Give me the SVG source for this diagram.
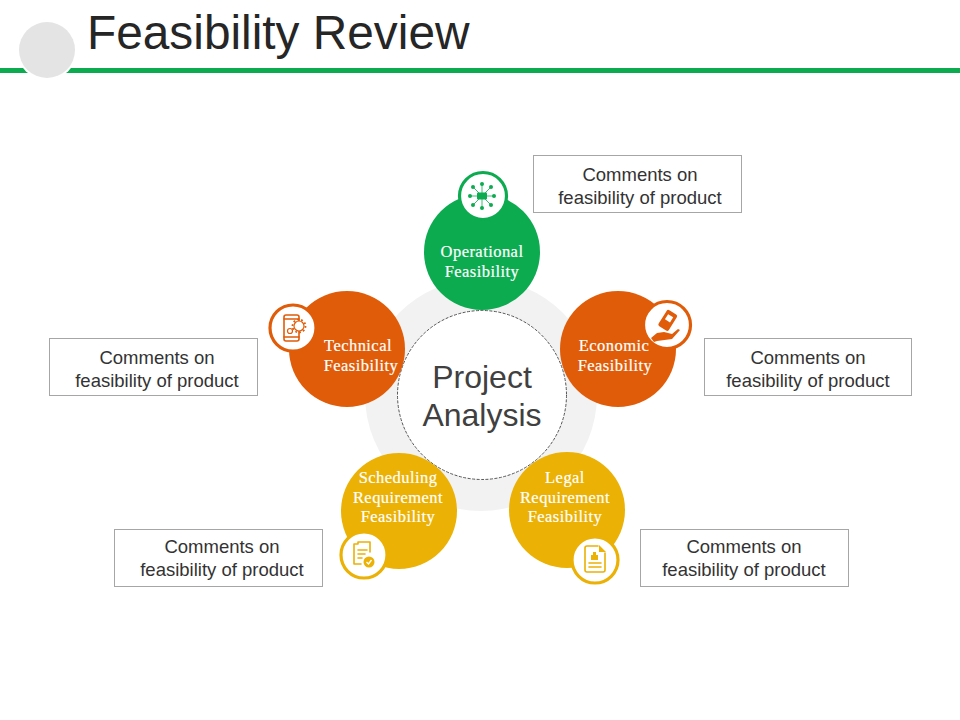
<svg xmlns="http://www.w3.org/2000/svg" width="960" height="720" viewBox="0 0 960 720">
<style>
.box{fill:#fff;stroke:#a6a6a6;stroke-width:1}
.c{font:18.500px "Liberation Sans",Arial,sans-serif;fill:#333;text-anchor:middle}
.n{font:16.500px "Liberation Serif","Times New Roman",serif;letter-spacing:.45px;fill:#fff;text-anchor:middle;stroke:#fff;stroke-width:.2}
.badge{fill:#fff;stroke-width:3.2}
.ic{fill:none;stroke-width:1.6;stroke-linecap:round;stroke-linejoin:round}
.green .badge,.green .ic{stroke:#0cab50}.green .m{fill:#0cab50}
.orange .badge,.orange .ic{stroke:#e05c08}.orange .m{fill:#e05c08}
.yellow .badge,.yellow .ic{stroke:#ebb104}.yellow .m{fill:#ebb104}
</style>
<rect width="960" height="720" fill="#fff"/>
<g id="header">
<rect x="0" y="68" width="960" height="5" fill="#0cab50"/>
<circle cx="47" cy="50" r="30" fill="#fff"/>
<circle cx="47" cy="50" r="28" fill="#e4e4e4"/>
<text x="87" y="49" font-family="Liberation Sans, Arial, sans-serif" font-size="47.800" fill="#262626">Feasibility Review</text>
</g>
<g id="hub">
<circle cx="481" cy="395" r="116" fill="#f2f2f2"/>
<circle cx="482" cy="395" r="84.500" fill="#fff" stroke="#555" stroke-width="1" stroke-dasharray="3 1.500"/>
<text x="482" y="388" font-family="Liberation Sans, Arial, sans-serif" font-size="32" fill="#404040" text-anchor="middle">Project</text>
<text x="482" y="426" font-family="Liberation Sans, Arial, sans-serif" font-size="32" fill="#404040" text-anchor="middle">Analysis</text>
</g>
<g id="connectors"></g>
<g id="operational" class="green">
<circle cx="482" cy="252" r="58" fill="#0cab50"/>
<text class="n" x="482" y="257">Operational</text>
<text class="n" x="482" y="277">Feasibility</text>
<circle class="badge" cx="483" cy="196" r="23.500"/>
<path d="M482 196V184M482 196V208M482 196H470M482 196H494M482 196L473 187M482 196L491 187M482 196L473 205M482 196L491 205" stroke="#0cab50" stroke-width=".8" fill="none"/>
<g class="m"><rect x="477" y="192.500" width="10" height="7" rx="1"/><circle cx="482" cy="184" r="2"/><circle cx="482" cy="208" r="2"/><circle cx="470" cy="196" r="2"/><circle cx="494" cy="196" r="2"/><circle cx="473" cy="187" r="2"/><circle cx="491" cy="187" r="2"/><circle cx="473" cy="205" r="2"/><circle cx="491" cy="205" r="2"/></g>
</g>
<g id="technical" class="orange">
<circle cx="347" cy="349" r="58" fill="#e05c08"/>
<text class="n" x="358" y="351">Technical</text>
<text class="n" x="361" y="371">Feasibility</text>
<circle class="badge" cx="293" cy="328" r="23"/>
<g class="ic"><rect x="284" y="315" width="15" height="26" rx="2"/><path d="M284 319H299M284 337H299"/><circle cx="299" cy="326" r="5" fill="#fff" stroke-width="1.200"/><circle cx="299" cy="326" r="6.500" stroke-dasharray="1.800 2.200" stroke-linecap="butt" stroke-width="1.800"/><circle cx="290" cy="331" r="2.500" fill="#fff" stroke-width="1.200"/></g>
</g>
<g id="economic" class="orange">
<circle cx="618" cy="349" r="58" fill="#e05c08"/>
<text class="n" x="614" y="351">Economic</text>
<text class="n" x="615" y="371">Feasibility</text>
<circle class="badge" cx="667" cy="325" r="23.500"/>
<g class="m"><path d="M651 338L657 333L664 332L672 334L678 329L680 330L672 339L657 341L654 342Z"/><rect x="662" y="311" width="12" height="19" rx="2" transform="rotate(32 668 320)"/></g>
<rect x="665" y="315" width="6" height="6" fill="#fff" transform="rotate(32 668 320)"/>
</g>
<g id="scheduling" class="yellow">
<circle cx="399" cy="511" r="58" fill="#ebb104"/>
<text class="n" x="398" y="483">Scheduling</text>
<text class="n" x="398" y="503">Requirement</text>
<text class="n" x="398" y="522">Feasibility</text>
<circle class="badge" cx="364" cy="555" r="23"/>
<g class="ic"><path d="M358 542H370V552M358 544H354V564H361M358 542V544"/><path d="M358 550H367M358 554H365M358 558H362"/></g>
<circle class="m" cx="369" cy="562" r="5.500"/><path d="M366.500 562L368.500 564L371.500 560" fill="none" stroke="#fff" stroke-width="1.400"/>
</g>
<g id="legal" class="yellow">
<circle cx="567" cy="510" r="58" fill="#ebb104"/>
<text class="n" x="565" y="483">Legal</text>
<text class="n" x="565" y="503">Requirement</text>
<text class="n" x="565" y="522">Feasibility</text>
<circle class="badge" cx="595" cy="560" r="23"/>
<g class="ic"><path d="M598 546H587Q585 546 585 548V570Q585 572 587 572H603Q605 572 605 570V553"/><path d="M589 563H601M589 567H601"/></g>
<path class="m" d="M599 545L606 552H599Z"/><path class="m" d="M591 560V555H593V552H596V555H598V560Z"/>
</g>
<g id="comment-top"><rect class="box" x="533.500" y="155.500" width="208" height="57"/><text class="c" x="640" y="181">Comments on</text><text class="c" x="640" y="204">feasibility of product</text></g>
<g id="comment-left"><rect class="box" x="49.500" y="338.500" width="208" height="57"/><text class="c" x="157" y="364">Comments on</text><text class="c" x="157" y="387">feasibility of product</text></g>
<g id="comment-right"><rect class="box" x="704.500" y="338.500" width="207" height="57"/><text class="c" x="808" y="364">Comments on</text><text class="c" x="808" y="387">feasibility of product</text></g>
<g id="comment-bottom-left"><rect class="box" x="114.500" y="529.500" width="208" height="57"/><text class="c" x="222" y="553">Comments on</text><text class="c" x="222" y="576">feasibility of product</text></g>
<g id="comment-bottom-right"><rect class="box" x="640.500" y="529.500" width="208" height="57"/><text class="c" x="744" y="553">Comments on</text><text class="c" x="744" y="576">feasibility of product</text></g>
</svg>
